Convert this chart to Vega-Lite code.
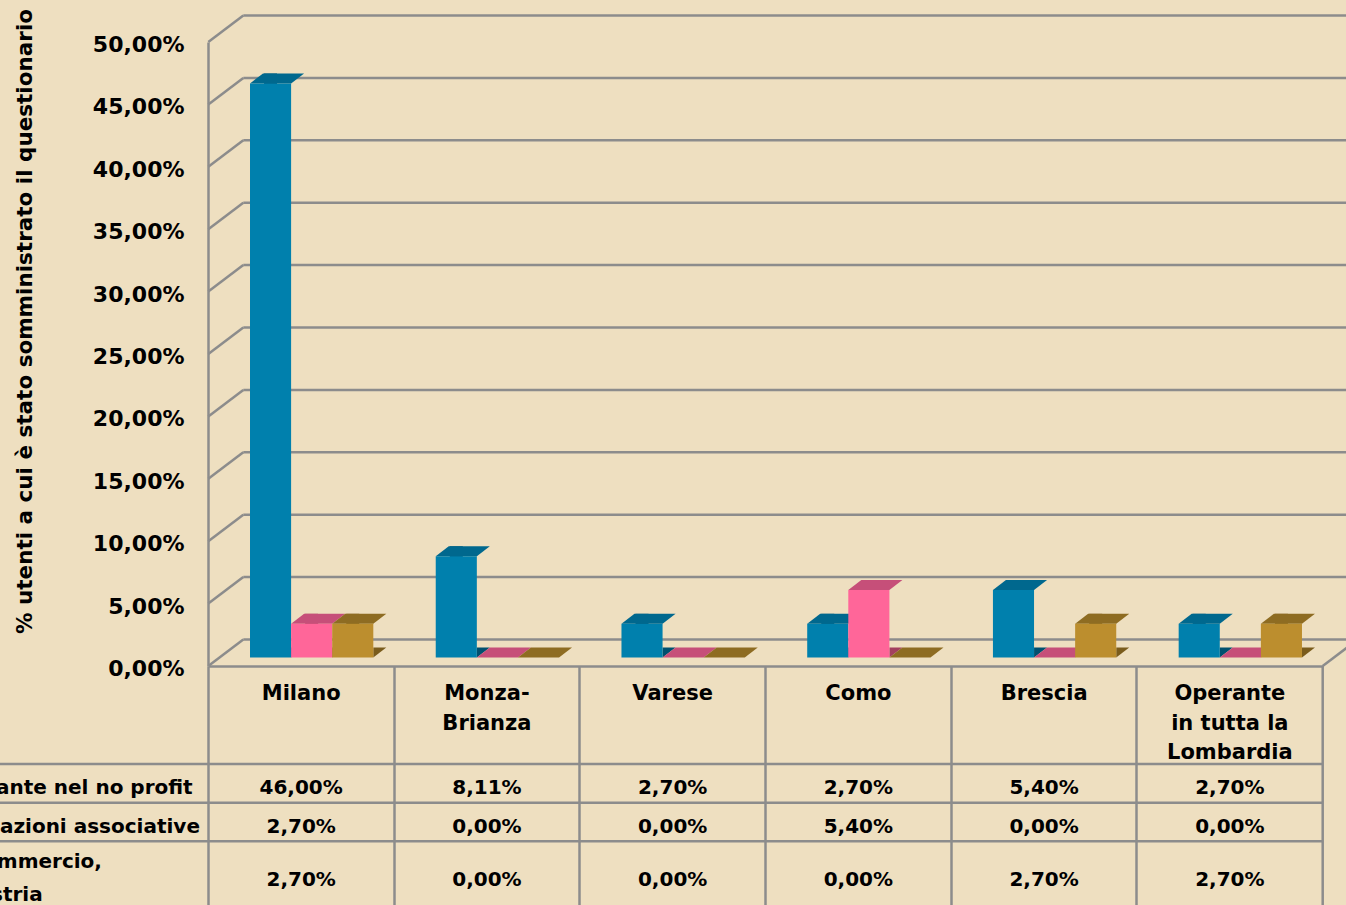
{
  "$schema": "https://vega.github.io/schema/vega-lite/v6.json",
  "width": 1103,
  "height": 624,
  "autosize": {"type": "none"},
  "padding": {"left": 243, "top": 42, "right": 0, "bottom": 239},
  "background": "#EEDFC0",
  "config": {
    "view": {"stroke": null},
    "axis": {"labelFont": "DejaVu Sans", "titleFont": "DejaVu Sans"},
    "text": {"font": "DejaVu Sans"},
    "locale": {"number": {"decimal": ",", "thousands": ".", "grouping": [3], "currency": ["", " €"]}}
  },
  "datasets": {
    "valori": [
      {"citta": "Milano", "serie": "Volontariato operante nel no profit", "valore": 0.46},
      {"citta": "Milano", "serie": "Organizzazioni associative", "valore": 0.027},
      {"citta": "Milano", "serie": "Camera di commercio, industria", "valore": 0.027},
      {"citta": "Monza-Brianza", "serie": "Volontariato operante nel no profit", "valore": 0.0811},
      {"citta": "Monza-Brianza", "serie": "Organizzazioni associative", "valore": 0},
      {"citta": "Monza-Brianza", "serie": "Camera di commercio, industria", "valore": 0},
      {"citta": "Varese", "serie": "Volontariato operante nel no profit", "valore": 0.027},
      {"citta": "Varese", "serie": "Organizzazioni associative", "valore": 0},
      {"citta": "Varese", "serie": "Camera di commercio, industria", "valore": 0},
      {"citta": "Como", "serie": "Volontariato operante nel no profit", "valore": 0.027},
      {"citta": "Como", "serie": "Organizzazioni associative", "valore": 0.054},
      {"citta": "Como", "serie": "Camera di commercio, industria", "valore": 0},
      {"citta": "Brescia", "serie": "Volontariato operante nel no profit", "valore": 0.054},
      {"citta": "Brescia", "serie": "Organizzazioni associative", "valore": 0},
      {"citta": "Brescia", "serie": "Camera di commercio, industria", "valore": 0.027},
      {"citta": "Operante in tutta la Lombardia", "serie": "Volontariato operante nel no profit", "valore": 0.027},
      {"citta": "Operante in tutta la Lombardia", "serie": "Organizzazioni associative", "valore": 0},
      {"citta": "Operante in tutta la Lombardia", "serie": "Camera di commercio, industria", "valore": 0.027}
    ],
    "tacche": [
      {"v": 0}, {"v": 0.05}, {"v": 0.1}, {"v": 0.15}, {"v": 0.2}, {"v": 0.25},
      {"v": 0.3}, {"v": 0.35}, {"v": 0.4}, {"v": 0.45}, {"v": 0.5}
    ],
    "righe": [
      {"serie": "Volontariato operante nel no profit"},
      {"serie": "Organizzazioni associative"},
      {"serie": "Camera di commercio, industria"}
    ]
  },
  "layer": [
    {
      "layer": [
        {
          "data": {"name": "tacche"},
          "mark": {"type": "rule", "color": "#8C8C8C", "strokeWidth": 2.5, "xOffset": -57.87, "x2Offset": 130, "yOffset": -26.5, "y2Offset": -26.5},
          "encoding": {
            "x": {"datum": "Milano", "type": "nominal", "scale": {"domain": ["Milano", "Monza-Brianza", "Varese", "Como", "Brescia", "Operante in tutta la Lombardia"], "range": [-34.7, 1079.7], "paddingInner": 0, "paddingOuter": 0}},
            "x2": {"datum": "Operante in tutta la Lombardia"},
            "y": {"field": "v", "type": "quantitative", "scale": {"domain": [0, 0.5], "nice": false, "zero": true}, "axis": null}
          }
        },
        {
          "data": {"name": "tacche"},
          "mark": {"type": "point", "shape": "M0,0L35,-26.5", "size": 4, "filled": false, "stroke": "#8C8C8C", "strokeWidth": 2.5, "opacity": 1, "xOffset": -92.87},
          "encoding": {
            "x": {"datum": "Milano", "type": "nominal"},
            "y": {"field": "v", "type": "quantitative", "axis": null}
          }
        },
        {
          "data": {"name": "tacche"},
          "transform": [{"filter": "datum.v == 0"}],
          "mark": {"type": "point", "shape": "M0,0L35,-26.5", "size": 4, "filled": false, "stroke": "#8C8C8C", "strokeWidth": 2.5, "opacity": 1, "xOffset": 92.87},
          "encoding": {
            "x": {"datum": "Operante in tutta la Lombardia", "type": "nominal"},
            "y": {"field": "v", "type": "quantitative", "axis": null}
          }
        },
        {
          "data": {"name": "tacche"},
          "transform": [{"filter": "datum.v == 0"}],
          "mark": {"type": "rule", "color": "#8C8C8C", "strokeWidth": 2.5, "xOffset": 92.87},
          "encoding": {
            "x": {"datum": "Operante in tutta la Lombardia", "type": "nominal"},
            "y": {"field": "v", "type": "quantitative", "axis": null},
            "y2": {"datum": -0.2}
          }
        },
        {
          "data": {"name": "valori"},
          "transform": [{"filter": "datum.valore > 0"}],
          "mark": {"type": "bar", "width": 13, "xOffset": 27.05, "yOffset": -18.5, "y2Offset": -18.5},
          "encoding": {
            "x": {"field": "citta", "type": "nominal"},
            "xOffset": {"field": "serie", "type": "nominal", "scale": {"domain": ["Volontariato operante nel no profit", "Organizzazioni associative", "Camera di commercio, industria"], "paddingInner": 0, "paddingOuter": 0.7595, "align": 0.668}},
            "y": {"field": "valore", "type": "quantitative", "stack": null, "axis": null},
            "y2": {"datum": 0},
            "color": {"field": "serie", "type": "nominal", "scale": {"domain": ["Volontariato operante nel no profit", "Organizzazioni associative", "Camera di commercio, industria"], "range": ["#00506F", "#A3405F", "#7A5C1C"]}, "legend": null}
          }
        },
        {
          "data": {"name": "valori"},
          "transform": [{"filter": "datum.valore > 0"}],
          "mark": {"type": "point", "shape": "M20.55,0L20.55,-10L33.55,-10Z", "size": 4, "filled": true, "opacity": 1, "strokeWidth": 0, "yOffset": -8.5},
          "encoding": {
            "x": {"field": "citta", "type": "nominal"},
            "xOffset": {"field": "serie", "type": "nominal"},
            "y": {"datum": 0, "type": "quantitative", "axis": null},
            "color": {"field": "serie", "type": "nominal", "scale": {"domain": ["Volontariato operante nel no profit", "Organizzazioni associative", "Camera di commercio, industria"], "range": ["#00506F", "#A3405F", "#7A5C1C"]}, "legend": null}
          }
        },
        {
          "data": {"name": "valori"},
          "mark": {"type": "point", "shape": "M-20.55,0L20.55,0L33.55,-10L-7.55,-10Z", "size": 4, "filled": true, "opacity": 1, "strokeWidth": 0, "yOffset": -8.5},
          "encoding": {
            "x": {"field": "citta", "type": "nominal"},
            "xOffset": {"field": "serie", "type": "nominal"},
            "y": {"field": "valore", "type": "quantitative", "stack": null, "axis": null},
            "color": {"field": "serie", "type": "nominal", "scale": {"domain": ["Volontariato operante nel no profit", "Organizzazioni associative", "Camera di commercio, industria"], "range": ["#00688E", "#C64F79", "#8E6C22"]}, "legend": null}
          }
        },
        {
          "data": {"name": "valori"},
          "mark": {"type": "bar", "yOffset": -8.5, "y2Offset": -8.5},
          "encoding": {
            "x": {
              "field": "citta", "type": "nominal",
              "axis": {
                "orient": "bottom", "title": null, "domain": true, "domainColor": "#8C8C8C", "domainWidth": 2.5,
                "ticks": true, "tickSize": 250, "tickColor": "#8C8C8C", "tickWidth": 2.5, "bandPosition": 0,
                "labelPadding": -233.3, "labelAngle": 0, "labelAlign": "center", "labelBaseline": "top",
                "labelFontSize": 21, "labelFontWeight": "bold", "labelColor": "#000000", "labelLineHeight": 29.5,
                "labelOverlap": false, "labelBound": false, "labelFlush": false, "labelLimit": 0,
                "labelExpr": "datum.value == 'Monza-Brianza' ? ['Monza-', 'Brianza'] : datum.value == 'Operante in tutta la Lombardia' ? ['Operante', 'in tutta la', 'Lombardia'] : datum.label"
              }
            },
            "xOffset": {"field": "serie", "type": "nominal"},
            "y": {
              "field": "valore", "type": "quantitative", "stack": null,
              "axis": {
                "orient": "left", "offset": 35, "values": [0, 0.05, 0.1, 0.15, 0.2, 0.25, 0.3, 0.35, 0.4, 0.45, 0.5],
                "format": ".2%", "grid": false, "labelOffset": 2.5,
                "ticks": false, "domain": true, "domainColor": "#8C8C8C", "domainWidth": 2.5, "labelPadding": 24,
                "labelFontSize": 22, "labelFontWeight": "bold", "labelColor": "#000000", "labelFlush": false, "labelOverlap": false, "labelBound": false,
                "title": "% utenti a cui è stato somministrato il questionario", "titleFontSize": 21.5, "titleFontWeight": "bold", "titleColor": "#000000",
                "titleAngle": 270, "titleAlign": "center", "titleBaseline": "middle", "titleX": -183, "titleY": 279
              }
            },
            "y2": {"datum": 0},
            "color": {"field": "serie", "type": "nominal", "scale": {"domain": ["Volontariato operante nel no profit", "Organizzazioni associative", "Camera di commercio, industria"], "range": ["#0080AD", "#FF6699", "#BC8E2E"]}, "legend": null}
          }
        }
      ],
      "resolve": {"scale": {"color": "independent"}, "axis": {"y": "independent"}}
    },
    {
      "layer": [
        {
          "data": {"name": "righe"},
          "mark": {"type": "rule", "color": "#8C8C8C", "strokeWidth": 2.5, "xOffset": -305, "x2Offset": 92.87},
          "encoding": {
            "x": {"datum": "Milano", "type": "nominal"},
            "x2": {"datum": "Operante in tutta la Lombardia"},
            "y": {"field": "serie", "type": "nominal", "bandPosition": 0, "scale": {"domain": ["Volontariato operante nel no profit", "Organizzazioni associative", "Camera di commercio, industria"], "range": [722, 838], "paddingInner": 0, "paddingOuter": 0}, "axis": null}
          }
        },
        {
          "data": {"name": "valori"},
          "transform": [{"filter": "datum.serie != 'Camera di commercio, industria'"}],
          "mark": {"type": "text", "fontSize": 20, "fontWeight": "bold", "color": "#000000", "baseline": "middle", "align": "center", "dy": 4.5},
          "encoding": {
            "x": {"field": "citta", "type": "nominal"},
            "y": {"field": "serie", "type": "nominal", "axis": null},
            "text": {"field": "valore", "type": "quantitative", "format": ".2%"}
          }
        },
        {
          "data": {"name": "valori"},
          "transform": [{"filter": "datum.serie == 'Camera di commercio, industria'"}],
          "mark": {"type": "text", "fontSize": 20, "fontWeight": "bold", "color": "#000000", "baseline": "middle", "align": "center", "dy": 19},
          "encoding": {
            "x": {"field": "citta", "type": "nominal"},
            "y": {"field": "serie", "type": "nominal", "axis": null},
            "text": {"field": "valore", "type": "quantitative", "format": ".2%"}
          }
        },
        {
          "data": {"name": "righe"},
          "transform": [{"filter": "datum.serie == 'Volontariato operante nel no profit'"}],
          "mark": {"type": "text", "fontSize": 20, "fontWeight": "bold", "color": "#000000", "baseline": "middle", "align": "right", "dy": 4.5, "xOffset": -108.5},
          "encoding": {
            "x": {"datum": "Milano", "type": "nominal"},
            "y": {"field": "serie", "type": "nominal", "axis": null},
            "text": {"field": "serie"}
          }
        },
        {
          "data": {"name": "righe"},
          "transform": [{"filter": "datum.serie == 'Organizzazioni associative'"}],
          "mark": {"type": "text", "fontSize": 20, "fontWeight": "bold", "color": "#000000", "baseline": "middle", "align": "right", "dy": 4.5, "xOffset": -101.2},
          "encoding": {
            "x": {"datum": "Milano", "type": "nominal"},
            "y": {"field": "serie", "type": "nominal", "axis": null},
            "text": {"field": "serie"}
          }
        },
        {
          "data": {"name": "righe"},
          "transform": [{"filter": "datum.serie == 'Camera di commercio, industria'"}],
          "mark": {"type": "text", "fontSize": 20, "fontWeight": "bold", "color": "#000000", "baseline": "middle", "align": "right", "dy": 1.6, "xOffset": -199.2},
          "encoding": {
            "x": {"datum": "Milano", "type": "nominal"},
            "y": {"field": "serie", "type": "nominal", "axis": null},
            "text": {"value": "Camera di commercio,"}
          }
        },
        {
          "data": {"name": "righe"},
          "transform": [{"filter": "datum.serie == 'Camera di commercio, industria'"}],
          "mark": {"type": "text", "fontSize": 20, "fontWeight": "bold", "color": "#000000", "baseline": "middle", "align": "right", "dy": 34.3, "xOffset": -258.5},
          "encoding": {
            "x": {"datum": "Milano", "type": "nominal"},
            "y": {"field": "serie", "type": "nominal", "axis": null},
            "text": {"value": "industria"}
          }
        }
      ]
    }
  ],
  "resolve": {"scale": {"y": "independent"}}
}
